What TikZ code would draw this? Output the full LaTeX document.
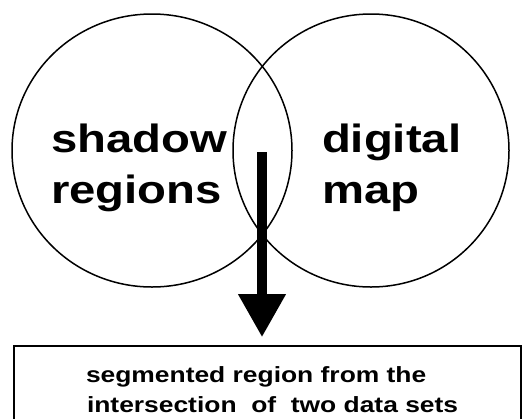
\documentclass[tikz,border=0pt]{standalone}
\usepackage{fontspec}
\newfontfamily\labfont{Liberation Sans}[FakeStretch=1.2]
\usetikzlibrary{shapes.geometric,arrows.meta}
\begin{document}
\begin{tikzpicture}[x=1pt,y=-1pt,
  setcircle/.style={ellipse,draw=black,line width=1.5pt,inner sep=0pt},
  bigtext/.style={anchor=base west,inner sep=0pt,outer sep=0pt,font=\labfont\bfseries\fontsize{39.4}{47}\selectfont},
  smalltext/.style={anchor=base west,inner sep=0pt,outer sep=0pt,font=\labfont\bfseries\fontsize{22}{26}\selectfont},
  resultbox/.style={rectangle,draw=black,line width=1.6pt,inner sep=0pt},
  bigarrow/.style={line width=10pt,-{Triangle[length=43pt,width=45pt]}}]
\useasboundingbox (0,0) rectangle (524,418);
\clip (0,0) rectangle (524,418);
\node[setcircle,minimum width=280pt,minimum height=273pt] (shadowset) at (152,150.5) {};
\node[setcircle,minimum width=276pt,minimum height=273pt] (mapset) at (371,150.5) {};
\node[bigtext] (shadow) at (51,152) {shadow};
\node[bigtext] (regions) at (51,203) {regions};
\node[bigtext] (digital) at (322,152) {digital};
\node[bigtext] (map) at (322,203) {map};
\node[resultbox,minimum width=507pt,minimum height=90pt] (result) at (267.5,391) {};
\node[smalltext] (line1) at (86,382) {segmented region from the};
\node[smalltext] (line2) at (87,412) {intersection\ \ of\ \ two data sets};
\coordinate (arrowtop) at (262,152);
\draw[bigarrow] (arrowtop) -- ([yshift=8pt]result.north -| arrowtop);
\end{tikzpicture}
\end{document}
